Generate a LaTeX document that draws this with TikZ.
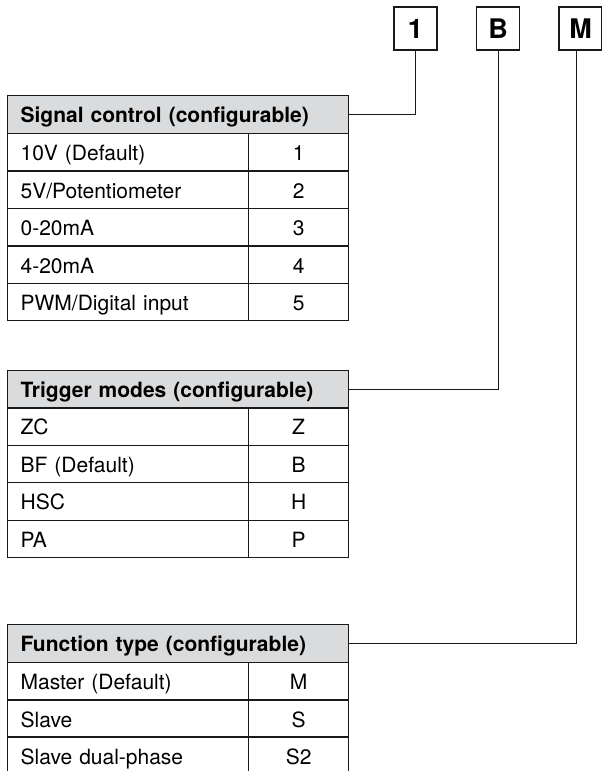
\documentclass[tikz,border=0pt]{standalone}
\usepackage{fontspec}
\setmainfont{TeX Gyre Heros}
\definecolor{hdr}{RGB}{218,219,221}
\begin{document}
\begin{tikzpicture}[x=1pt,y=-1pt,
  base/.style={draw=black!90, line width=1.2pt, rectangle, inner ysep=0pt, anchor=north west, text height=17pt, text depth=0pt, font=\fontsize{21}{24}\selectfont},
  hcell/.style={base, fill=hdr, minimum height=38pt, inner xsep=13pt, text width=315pt, align=left, text height=15.5pt, font=\fontsize{21}{24}\selectfont\bfseries},
  lcell/.style={base, minimum height=37.5pt, inner xsep=13pt, text width=215pt, align=left},
  rcell/.style={base, minimum height=37.5pt, minimum width=100pt, inner xsep=0pt, align=center},
  keybox/.style={draw=black!90, line width=1.3pt, rectangle, minimum size=43pt, inner sep=0pt, font=\fontsize{27}{28}\selectfont\bfseries},
  conn/.style={draw=black!90, line width=1pt}]
\clip (0,0) rectangle (602,771);
\fill[white] (0,0) rectangle (602,771);

% key boxes
\node[keybox] (k1) at (415.5,28.5) {1};
\node[keybox] (k2) at (498,28.5) {B};
\node[keybox] (k3) at (580.5,28.5) {M};

% table 1
\node[hcell] (h1) at (7,95) {Signal control (configurable)};
\foreach \i/\a/\b in {0/{10V (Default)}/1, 1/{5V/Potentiometer}/2, 2/{0-20mA}/3, 3/{4-20mA}/4, 4/{PWM/Digital input}/5}{
  \node[lcell] (a1\i) at (7,133+37.4*\i) {\a};
  \node[rcell] (b1\i) at (248,133+37.4*\i) {\b};
}

% table 2
\node[hcell] (h2) at (7,370) {Trigger modes (configurable)};
\foreach \i/\a/\b in {0/ZC/Z, 1/{BF (Default)}/B, 2/HSC/H, 3/PA/P}{
  \node[lcell] (a2\i) at (7,407+37.5*\i) {\a};
  \node[rcell] (b2\i) at (248,407+37.5*\i) {\b};
}

% table 3
\node[hcell] (h3) at (7,624) {Function type (configurable)};
\foreach \i/\a/\b in {0/{Master (Default)}/M, 1/Slave/S, 2/{Slave dual-phase}/S2}{
  \node[lcell] (a3\i) at (7,662+37.2*\i) {\a};
  \node[rcell] (b3\i) at (248,662+37.2*\i) {\b};
}

% connectors
\draw[conn] (h1.east) -| (k1.south);
\draw[conn] (h2.east) -| (k2.south);
\draw[conn] (h3.east) -| ([xshift=-4.5pt]k3.south);
\end{tikzpicture}
\end{document}
